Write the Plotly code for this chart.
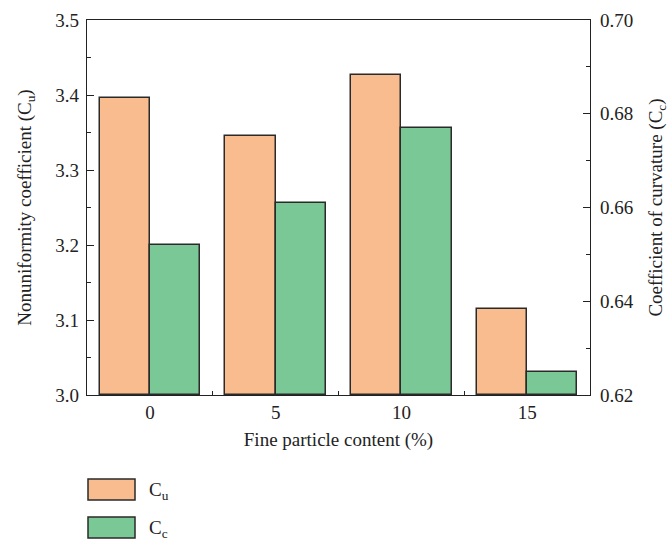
import plotly.graph_objects as go

content = [0, 5, 10, 15]
cu_values = [3.396, 3.345, 3.427, 3.115]
cc_values = [0.652, 0.661, 0.677, 0.625]
x_ticks = [0, 5, 10, 15]
cu_name = "C<sub>u</sub>"
cc_name = "C<sub>c</sub>"

FONT = "Liberation Serif"
FS = 19
ORANGE = "#F9BC8F"
GREEN = "#7BC897"
EDGE = "#2a2a2a"

fig = go.Figure()
fig.add_trace(go.Bar(x=content, y=[v - 3.0 for v in cu_values], base=3.0, name=cu_name,
                     width=2, offset=-2, marker=dict(color=ORANGE, line=dict(color=EDGE, width=1.5)),
                     yaxis="y", showlegend=False))
fig.add_trace(go.Bar(x=content, y=[v - 0.62 for v in cc_values], base=0.62, name=cc_name,
                     width=2, offset=0, marker=dict(color=GREEN, line=dict(color=EDGE, width=1.5)),
                     yaxis="y2", showlegend=False))

axis_common = dict(showline=True, linecolor="#222", linewidth=1.3, ticks="inside",
                   tickcolor="#222", showgrid=False, zeroline=False,
                   tickfont=dict(family=FONT, size=FS, color="#222"))

fig.update_layout(
    width=669, height=540,
    margin=dict(l=87, r=79, t=20, b=145, autoexpand=False),
    plot_bgcolor="white", paper_bgcolor="white",
    font=dict(family=FONT, size=FS, color="#222"),
    xaxis=dict(range=[-2.5, 17.5], tickvals=x_ticks, ticktext=[str(t) for t in x_ticks],
               ticks="", showline=True, linecolor="#222", linewidth=1.3, mirror=True,
               showgrid=False, zeroline=False, automargin=False,
               minor=dict(tickvals=[2.5, 7.5, 12.5], ticks="inside", ticklen=4, tickcolor="#222"),
               tickfont=dict(family=FONT, size=FS, color="#222"),
               title=dict(text="Fine particle content (%)", font=dict(family=FONT, size=FS), standoff=10)),
    yaxis=dict(range=[3.0, 3.5], tickvals=[3.0, 3.1, 3.2, 3.3, 3.4, 3.5], tickformat=".1f",
               ticklen=7, ticklabelstandoff=3, automargin=False,
               minor=dict(dtick=0.05, ticks="inside", ticklen=4, tickcolor="#222"),
               title=dict(text="Nonuniformity coefficient (C<sub>u</sub>)", font=dict(family=FONT, size=FS), standoff=18),
               **axis_common),
    yaxis2=dict(range=[0.62, 0.70], tickvals=[0.62, 0.64, 0.66, 0.68, 0.70], tickformat=".2f",
                overlaying="y", side="right", ticklen=7, ticklabelstandoff=5, automargin=False,
                minor=dict(dtick=0.01, ticks="inside", ticklen=4, tickcolor="#222"),
                title=dict(text="Coefficient of curvature (C<sub>c</sub>)", font=dict(family=FONT, size=FS), standoff=20),
                **axis_common),
    bargap=0,
)

# manual legend with wide swatches below the plot (plot area: 503 x 375 px)
legend_items = [(cu_name, ORANGE), (cc_name, GREEN)]
for i, (label, color) in enumerate(legend_items):
    top_px = 479 + i * 38
    bot_px = 500 + i * 38
    fig.add_shape(type="rect", xref="paper", yref="paper",
                  x0=(88 - 87) / 503, x1=(135 - 87) / 503,
                  y0=-(bot_px - 395) / 375, y1=-(top_px - 395) / 375,
                  fillcolor=color, line=dict(color=EDGE, width=1.5))
    fig.add_annotation(xref="paper", yref="paper", x=(147 - 87) / 503,
                       y=-((top_px + bot_px) / 2 + 1 - 395) / 375, text=label, showarrow=False,
                       xanchor="left", yanchor="middle", font=dict(family=FONT, size=FS, color="#222"))

fig.write_html("out.html")
